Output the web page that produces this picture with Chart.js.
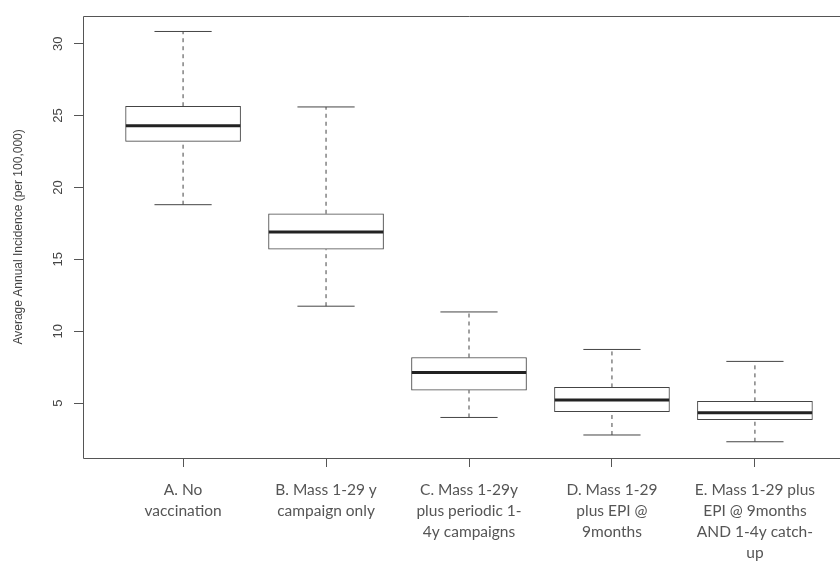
<!DOCTYPE html>
<html>
<head>
<meta charset="utf-8">
<script src="https://cdn.jsdelivr.net/npm/chart.js@4"></script>
<style>
  html, body { margin: 0; padding: 0; background: #fff; overflow: hidden; width: 840px; height: 561px; }
  canvas { display: block; }
</style>
</head>
<body>
<canvas id="c" width="870" height="561"></canvas>
<script>
// ---- data ----
const categories = [
  ["A. No", "vaccination"],
  ["B. Mass 1-29 y", "campaign only"],
  ["C. Mass 1-29y", "plus periodic 1-", "4y campaigns"],
  ["D. Mass 1-29", "plus EPI @", "9months"],
  ["E. Mass 1-29 plus", "EPI @ 9months", "AND 1-4y catch-", "up"]
];
const whiskerLow  = [18.8, 11.74, 4.0, 2.78, 2.31];
const q1          = [23.2, 15.7, 5.9, 4.4, 3.84];
const median      = [24.3, 16.9, 7.13, 5.21, 4.33];
const q3          = [25.65, 18.17, 8.17, 6.09, 5.12];
const whiskerHigh = [30.85, 25.6, 11.34, 8.73, 7.9];
const yTicks = [5, 10, 15, 20, 25, 30];
const yTitle = "Average Annual Incidence (per 100,000)";

// ---- derived structures for the library ----
const pos = categories.map((_, i) => i + 1);
const boxData = pos.map((x, i) => ({ x: x, y: [q1[i], q3[i]] }));
const medianData = [], whiskerData = [], capData = [];
pos.forEach((x, i) => {
  medianData.push({ x: x - 0.4, y: median[i] }, { x: x + 0.4, y: median[i] }, { x: x, y: null });
  whiskerData.push({ x: x, y: q3[i] }, { x: x, y: whiskerHigh[i] }, { x: x, y: null });
  whiskerData.push({ x: x, y: whiskerLow[i] }, { x: x, y: q1[i] }, { x: x, y: null });
  capData.push({ x: x - 0.2, y: whiskerHigh[i] }, { x: x + 0.2, y: whiskerHigh[i] }, { x: x, y: null });
  capData.push({ x: x - 0.2, y: whiskerLow[i] }, { x: x + 0.2, y: whiskerLow[i] }, { x: x, y: null });
});

// plot frame (left, top, bottom sides; right side lies beyond the visible page)
const frame = {
  id: 'frame',
  afterDraw(chart) {
    const { ctx, chartArea: a } = chart;
    const l = Math.round(a.left) + 0.5, t = Math.round(a.top) + 0.5,
          b = Math.round(a.bottom) + 0.5, r = Math.round(a.right) + 0.5;
    ctx.save();
    ctx.strokeStyle = '#555';
    ctx.lineWidth = 1;
    ctx.beginPath();
    ctx.moveTo(r, t); ctx.lineTo(l, t); ctx.lineTo(l, b); ctx.lineTo(r, b);
    ctx.stroke();
    ctx.restore();
  }
};

new Chart(document.getElementById('c'), {
  type: 'bar',
  data: {
    datasets: [
      { type: 'bar', data: boxData, backgroundColor: '#ffffff', borderColor: '#444',
        borderWidth: 1, barThickness: 115, grouped: false, borderSkipped: false, order: 10 },
      { type: 'line', data: whiskerData, borderColor: '#444', borderWidth: 1, borderDash: [4, 4],
        pointRadius: 0, spanGaps: false, order: 5 },
      { type: 'line', data: capData, borderColor: '#444', borderWidth: 1,
        pointRadius: 0, spanGaps: false, order: 4 },
      { type: 'line', data: medianData, borderColor: '#222', borderWidth: 3, borderCapStyle: 'butt',
        pointRadius: 0, spanGaps: false, order: 1 }
    ]
  },
  options: {
    responsive: false,
    animation: false,
    events: [],
    layout: { padding: { top: 15, right: 15, left: 0, bottom: 0 } },
    plugins: { legend: { display: false }, tooltip: { enabled: false } },
    scales: {
      x: {
        type: 'linear',
        offset: false,
        min: 0.3, max: 5.7,
        afterBuildTicks(s) { s.ticks = pos.map(v => ({ value: v })); },
        afterFit(s) { s.height = 103; s.paddingLeft = 0; s.paddingRight = 0; },
        grid: { offset: false, drawOnChartArea: false, drawTicks: true, tickLength: 9, color: '#555' },
        border: { display: false },
        ticks: {
          autoSkip: false, maxRotation: 0, minRotation: 0, padding: 12,
          color: '#555',
          font: { family: 'Lato', size: 15.5, lineHeight: 1.36 },
          callback: (v) => categories[v - 1]
        }
      },
      y: {
        type: 'linear',
        min: 1.18, max: 31.94,
        afterBuildTicks(s) { s.ticks = yTicks.map(v => ({ value: v })); },
        afterFit(s) { s.width = 83; },
        grid: { drawOnChartArea: false, drawTicks: true, tickLength: 9, color: '#555' },
        border: { display: false },
        ticks: {
          minRotation: 90, maxRotation: 90, crossAlign: 'center', padding: 8,
          color: '#444',
          font: { family: 'Liberation Sans', size: 13 }
        },
        title: {
          display: true, text: yTitle, color: '#444',
          font: { family: 'Liberation Sans', size: 12, lineHeight: 1.2 },
          padding: { top: 11, bottom: 0 }
        }
      }
    }
  },
  plugins: [frame]
});
</script>
</body>
</html>
